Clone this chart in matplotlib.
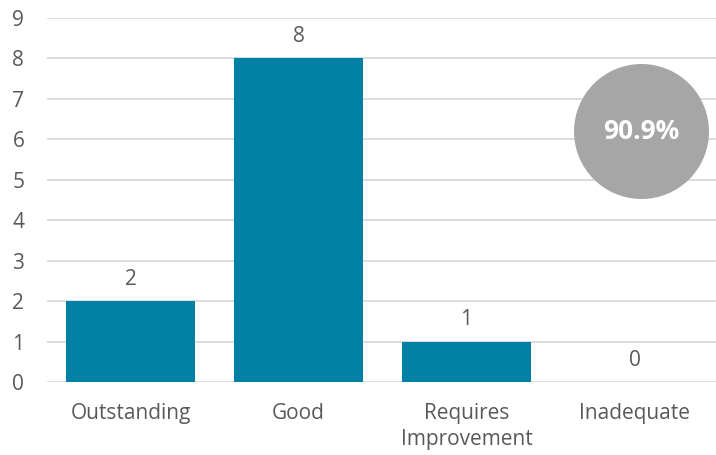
import matplotlib
matplotlib.use("Agg")
import matplotlib.pyplot as plt

categories = ["Outstanding", "Good", "Requires\nImprovement", "Inadequate"]
counts = [2, 8, 1, 0]
overall_pct = 90.9

plt.rcParams['font.family'] = ['Open Sans', 'DejaVu Sans']

bar_color = "#0080A3"
text_color = "#595959"
grid_color = "#D9D9D9"

fig = plt.figure(figsize=(7.16, 4.55), dpi=100)
ax = fig.add_axes([0.065, 0.1604, 0.9385, 0.80])

x = list(range(len(categories)))
ax.bar(x, counts, width=0.77, color=bar_color, zorder=3)

for xi, v in zip(x, counts):
    ax.annotate(str(v), (xi, v), xytext=(0, 8), textcoords="offset points",
                ha="center", va="bottom", fontsize=15, color=text_color)

# overall rating badge
ax.scatter([3.04], [6.2], s=9450, color="#A6A6A6", zorder=4, linewidths=0)
ax.text(3.04, 6.2, f"{overall_pct}%", ha="center", va="center",
        fontsize=19, fontweight="bold", color="white", zorder=5)

ax.set_xlim(-0.5, 3.5)
ax.set_ylim(0, 9)
ax.set_yticks(range(0, 10))
ax.set_xticks(x)
ax.set_xticklabels(categories, linespacing=1.35)
ax.yaxis.grid(True, color=grid_color, linewidth=1.3, zorder=0)
ax.set_axisbelow(True)
for s in ax.spines.values():
    s.set_visible(False)
ax.tick_params(axis="both", length=0, labelsize=15, labelcolor=text_color)
ax.tick_params(axis="y", pad=16)
ax.tick_params(axis="x", pad=15)

fig.savefig("out.png", dpi=100)
